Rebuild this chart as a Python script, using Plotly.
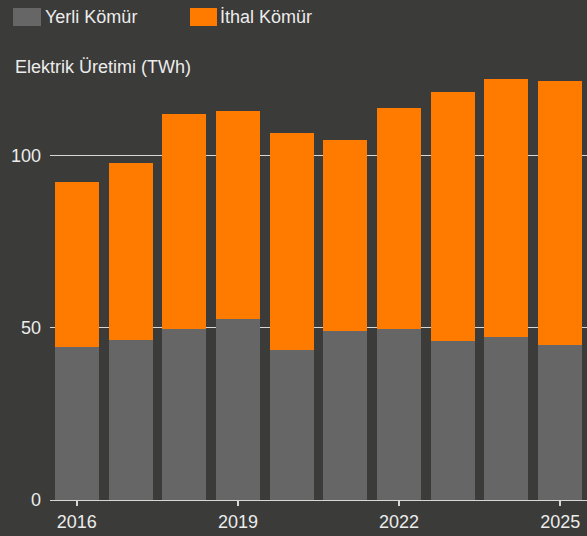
import plotly.graph_objects as go

years = [2016, 2017, 2018, 2019, 2020, 2021, 2022, 2023, 2024, 2025]
yerli = [44.4, 46.4, 49.6, 52.5, 43.5, 49.0, 49.6, 46.1, 47.3, 45.0]
toplam = [92.3, 97.8, 112.0, 112.9, 106.5, 104.4, 113.7, 118.4, 122.2, 121.6]
ithal = [round(t - y, 1) for t, y in zip(toplam, yerli)]

series_names = ["Yerli Kömür", "İthal Kömür"]
colors = ["#666666", "#ff7b00"]
y_title = "Elektrik Üretimi (TWh)"

BG = "#3b3b39"
TXT = "#ececec"
FONT = "Liberation Sans, Arial, sans-serif"

fig = go.Figure()
fig.add_trace(go.Bar(x=years, y=yerli, name=series_names[0], marker_color=colors[0],
                     marker_line_width=0, showlegend=False))
fig.add_trace(go.Bar(x=years, y=ithal, name=series_names[1], marker_color=colors[1],
                     marker_line_width=0, showlegend=False))

W, H = 587, 536
ml, mr, mt, mb = 50, 0, 70, 36
pw, ph = W - ml - mr, H - mt - mb

def px(x):
    return (x - ml) / pw

def py(y):
    return (H - mb - y) / ph

shapes = []
annotations = []
# manual legend
legend_items = [(13, 41, 43), (190, 217, 218)]
for (x0, x1, tx), name, col in zip(legend_items, series_names, colors):
    shapes.append(dict(type="rect", xref="paper", yref="paper",
                       x0=px(x0), x1=px(x1), y0=py(26), y1=py(8),
                       fillcolor=col, line_width=0))
    annotations.append(dict(text=name, xref="paper", yref="paper",
                            x=px(tx), y=py(17), xanchor="left", yanchor="middle",
                            showarrow=False, font=dict(size=18, color=TXT, family=FONT)))

annotations.append(dict(text=y_title, xref="paper", yref="paper",
                        x=px(13), y=py(67), xanchor="left", yanchor="middle",
                        showarrow=False, font=dict(size=18, color=TXT, family=FONT)))

fig.update_layout(
    width=W, height=H,
    margin=dict(l=ml, r=mr, t=mt, b=mb),
    paper_bgcolor=BG, plot_bgcolor=BG,
    barmode="stack", bargap=0.18,
    font=dict(family=FONT, size=18, color=TXT),
    shapes=shapes, annotations=annotations,
    xaxis=dict(range=[2015.5, 2025.5], tickmode="linear", tick0=2016, dtick=3,
               showgrid=False, showline=True, linecolor="#d8d8d8", linewidth=1,
               ticks="outside", ticklen=5, tickwidth=2, tickcolor="#d8d8d8",
               tickfont=dict(size=18, color=TXT), zeroline=False),
    yaxis=dict(range=[0, ph / 3.447], tickvals=[0, 50, 100],
               showgrid=True, gridcolor="#d8d8d8", gridwidth=1,
               zeroline=False, showline=False, ticks="",
               ticklabelstandoff=8, tickfont=dict(size=18, color=TXT)),
)

fig.write_html("out.html", config={"displayModeBar": False},
               post_script="document.body.style.margin='0';document.body.style.background='%s';" % BG)
